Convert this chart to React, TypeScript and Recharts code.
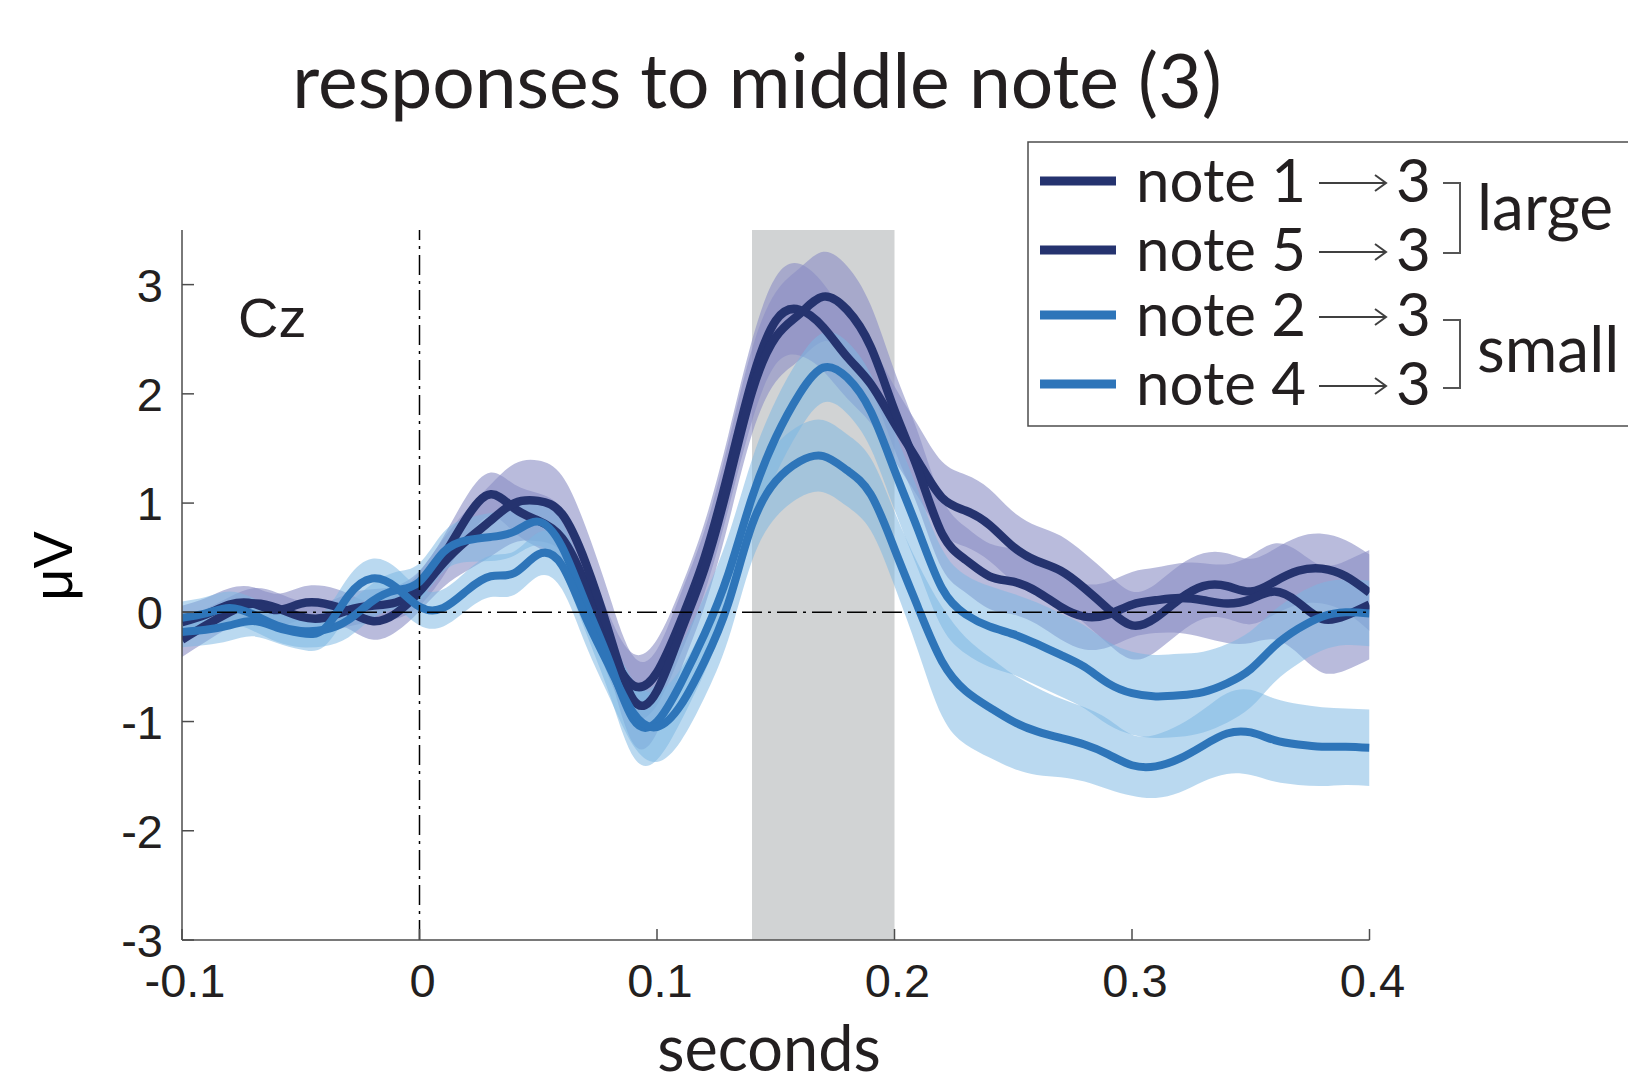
import React from "react"
import {
    ComposedChart,
    Area,
    Line,
    XAxis,
    YAxis,
    ReferenceArea,
    ReferenceLine,
} from "recharts"

// time axis (seconds)
const TIME = [
    -0.1, -0.09, -0.08, -0.07, -0.06, -0.05, -0.04, -0.03, -0.02, -0.01,
    0, 0.01, 0.02, 0.03, 0.04, 0.05, 0.06, 0.07, 0.08, 0.09,
    0.1, 0.11, 0.12, 0.13, 0.14, 0.15, 0.16, 0.17, 0.18, 0.19,
    0.2, 0.21, 0.22, 0.23, 0.24, 0.25, 0.26, 0.27, 0.28, 0.29,
    0.3, 0.31, 0.32, 0.33, 0.34, 0.35, 0.36, 0.37, 0.38, 0.39, 0.4,
]

// note 1 -> 3 (large)
const NOTE1_MEAN = [
    -0.25, -0.12, 0.0, 0.08, 0.04, -0.04, -0.05, 0.02, 0.06, 0.09,
    0.22, 0.51, 0.87, 1.08, 0.95, 0.84, 0.68, 0.25, -0.32, -0.67,
    -0.55, -0.08, 0.5, 1.28, 2.12, 2.67, 2.77, 2.61, 2.34, 2.09,
    1.73, 1.38, 1.05, 0.93, 0.8, 0.6, 0.47, 0.38, 0.22, 0.03,
    -0.12, -0.05, 0.12, 0.24, 0.24, 0.19, 0.28, 0.38, 0.4, 0.33, 0.18,
]
const NOTE1_SE = [
    0.16, 0.15, 0.14, 0.14, 0.14, 0.14, 0.14, 0.15, 0.15, 0.15,
    0.16, 0.18, 0.2, 0.2, 0.22, 0.25, 0.27, 0.28, 0.29, 0.29,
    0.3, 0.3, 0.32, 0.34, 0.37, 0.4, 0.42, 0.4, 0.38, 0.36,
    0.34, 0.33, 0.33, 0.33, 0.33, 0.32, 0.32, 0.32, 0.32, 0.32,
    0.31, 0.31, 0.31, 0.3, 0.3, 0.3, 0.3, 0.31, 0.32, 0.33, 0.35,
]

// note 5 -> 3 (large)
const NOTE5_MEAN = [
    -0.09, -0.02, 0.07, 0.08, 0.02, 0.08, 0.08, 0.01, -0.08, -0.01,
    0.19, 0.45, 0.66, 0.84, 1.0, 1.02, 0.9, 0.45, -0.2, -0.8,
    -0.72, -0.18, 0.4, 1.18, 2.02, 2.52, 2.73, 2.89, 2.77, 2.43,
    1.85, 1.3, 0.72, 0.48, 0.33, 0.28, 0.19, 0.05, -0.04, -0.02,
    0.07, 0.11, 0.13, 0.11, 0.08, 0.12, 0.19, 0.09, -0.06, -0.03, 0.07,
]
const NOTE5_SE = [
    0.15, 0.15, 0.15, 0.15, 0.15, 0.15, 0.16, 0.16, 0.17, 0.17,
    0.18, 0.22, 0.28, 0.33, 0.36, 0.37, 0.35, 0.33, 0.35, 0.4,
    0.38, 0.35, 0.35, 0.37, 0.39, 0.41, 0.42, 0.41, 0.4, 0.38,
    0.36, 0.34, 0.32, 0.3, 0.3, 0.3, 0.3, 0.3, 0.3, 0.3,
    0.3, 0.3, 0.32, 0.34, 0.36, 0.4, 0.44, 0.47, 0.49, 0.5, 0.5,
]

// note 2 -> 3 (small)
const NOTE2_MEAN = [
    -0.05, -0.01, 0.04, -0.02, -0.12, -0.17, -0.16, -0.07, 0.1, 0.2,
    0.28, 0.55, 0.66, 0.69, 0.74, 0.83, 0.6, 0.08, -0.45, -0.98,
    -1.0, -0.65, -0.2, 0.35, 1.05, 1.6, 2.0, 2.24, 2.15, 1.84,
    1.3, 0.75, 0.22, -0.02, -0.13, -0.2, -0.29, -0.39, -0.5, -0.65,
    -0.74, -0.77, -0.76, -0.73, -0.65, -0.52, -0.31, -0.15, -0.04, 0.0, -0.01,
]
const NOTE2_SE = [
    0.15, 0.15, 0.15, 0.15, 0.15, 0.15, 0.15, 0.16, 0.16, 0.17,
    0.17, 0.18, 0.2, 0.22, 0.22, 0.22, 0.23, 0.26, 0.3, 0.34,
    0.35, 0.35, 0.35, 0.35, 0.35, 0.34, 0.33, 0.32, 0.33, 0.34,
    0.36, 0.36, 0.36, 0.36, 0.37, 0.37, 0.38, 0.38, 0.38, 0.38,
    0.38, 0.38, 0.38, 0.37, 0.36, 0.35, 0.33, 0.32, 0.31, 0.3, 0.3,
]

// note 4 -> 3 (small)
const NOTE4_MEAN = [
    -0.18, -0.16, -0.12, -0.08, -0.14, -0.19, -0.15, 0.15, 0.31, 0.23,
    0.05, 0.04, 0.2, 0.33, 0.36, 0.53, 0.43, -0.05, -0.5, -0.92,
    -1.05, -0.85, -0.45, 0.08, 0.8, 1.2, 1.38, 1.43, 1.3, 1.08,
    0.58, 0.04, -0.45, -0.72, -0.87, -1.0, -1.09, -1.15, -1.21, -1.3,
    -1.4, -1.41, -1.34, -1.22, -1.11, -1.1, -1.17, -1.21, -1.23, -1.23, -1.24,
]
const NOTE4_SE = [
    0.14, 0.14, 0.14, 0.14, 0.14, 0.15, 0.16, 0.17, 0.18, 0.18,
    0.17, 0.17, 0.18, 0.19, 0.2, 0.2, 0.22, 0.25, 0.28, 0.3,
    0.32, 0.33, 0.33, 0.33, 0.33, 0.33, 0.33, 0.33, 0.33, 0.33,
    0.34, 0.4, 0.5, 0.49, 0.46, 0.43, 0.4, 0.36, 0.34, 0.32,
    0.28, 0.29, 0.31, 0.33, 0.37, 0.39, 0.38, 0.37, 0.36, 0.35, 0.35,
]

const X_TICKS = [-0.1, 0, 0.1, 0.2, 0.3, 0.4]
const Y_TICKS = [-3, -2, -1, 0, 1, 2, 3]
const WINDOW = [0.14, 0.2]

const DARK = "#25336f"
const MID = "#2e75b9"
const DARK_BAND = "#8a8dc5"
const MID_BAND = "#7bb7e2"
const AXIS = "#4d4d4d"
const INK = "#231f20"
const ARIAL = "'Liberation Sans', Arial, sans-serif"
const MYRIAD = "Lato, 'Open Sans', sans-serif"

const PLOT_LEFT = 182
const PLOT_BOTTOM = 940

const data = TIME.map((t, i) => ({
    t,
    n1: NOTE1_MEAN[i],
    n5: NOTE5_MEAN[i],
    n2: NOTE2_MEAN[i],
    n4: NOTE4_MEAN[i],
    n1band: [NOTE1_MEAN[i] - NOTE1_SE[i], NOTE1_MEAN[i] + NOTE1_SE[i]],
    n5band: [NOTE5_MEAN[i] - NOTE5_SE[i], NOTE5_MEAN[i] + NOTE5_SE[i]],
    n2band: [NOTE2_MEAN[i] - NOTE2_SE[i], NOTE2_MEAN[i] + NOTE2_SE[i]],
    n4band: [NOTE4_MEAN[i] - NOTE4_SE[i], NOTE4_MEAN[i] + NOTE4_SE[i]],
}))

// MATLAB-style ticks: pointing into the plot
const YTick = (props: any) => {
    const { y, payload } = props
    return (
        <g>
            <line x1={PLOT_LEFT} x2={PLOT_LEFT + 12} y1={y} y2={y} stroke={AXIS} strokeWidth={1.5} />
            <text x={163} y={y + 17} textAnchor="end" fontFamily={ARIAL} fontSize={47} fill={INK}>
                {payload.value}
            </text>
        </g>
    )
}

const XTick = (props: any) => {
    const { x, payload } = props
    return (
        <g>
            <line x1={x} x2={x} y1={PLOT_BOTTOM} y2={PLOT_BOTTOM - 11} stroke={AXIS} strokeWidth={1.5} />
            <text x={x + 3} y={997} textAnchor="middle" fontFamily={ARIAL} fontSize={47} fill={INK}>
                {payload.value}
            </text>
        </g>
    )
}

const LEGEND_ROWS = [
    { label: "note 1", color: DARK, lineY: 181, base: 202 },
    { label: "note 5", color: DARK, lineY: 250, base: 271 },
    { label: "note 2", color: MID, lineY: 315, base: 336 },
    { label: "note 4", color: MID, lineY: 384, base: 405 },
]

function Overlay() {
    return (
        <svg width={1628} height={1080} style={{ position: "absolute", left: 0, top: 0, pointerEvents: "none" }}>
            <text x={757} y={108} textAnchor="middle" fontFamily={MYRIAD} fontSize={75} fill={INK}>
                responses to middle note (3)
            </text>
            <text x={769} y={1071} textAnchor="middle" fontFamily={MYRIAD} fontSize={63} fill={INK}>
                seconds
            </text>
            <text
                x={72}
                y={566}
                textAnchor="middle"
                fontFamily={ARIAL}
                fontSize={56}
                fill="#000"
                transform="rotate(-90 72 566)"
            >
                μV
            </text>
            <text x={238} y={337} fontFamily={ARIAL} fontSize={56} fill={INK}>
                Cz
            </text>

            <rect x={1028} y={142} width={700} height={284} fill="#fff" stroke={AXIS} strokeWidth={1.5} />
            {LEGEND_ROWS.map((r) => (
                <g key={r.label}>
                    <line x1={1040} x2={1116} y1={r.lineY} y2={r.lineY} stroke={r.color} strokeWidth={9} />
                    <text x={1136} y={r.base} fontFamily={MYRIAD} fontSize={60} fill={INK}>
                        {r.label}
                    </text>
                    <line x1={1319} x2={1386} y1={r.base - 19} y2={r.base - 19} stroke="#404040" strokeWidth={2} />
                    <path
                        d={`M1375 ${r.base - 27} L1386 ${r.base - 19} L1375 ${r.base - 11}`}
                        fill="none"
                        stroke="#404040"
                        strokeWidth={2}
                    />
                    <text x={1396} y={r.base} fontFamily={MYRIAD} fontSize={60} fill={INK}>
                        3
                    </text>
                </g>
            ))}
            <path d="M1443 183 H1460 V253 H1443" fill="none" stroke="#555" strokeWidth={2} />
            <path d="M1443 320 H1460 V388 H1443" fill="none" stroke="#555" strokeWidth={2} />
            <text x={1477} y={230} fontFamily={MYRIAD} fontSize={64} fill={INK}>
                large
            </text>
            <text x={1477} y={372} fontFamily={MYRIAD} fontSize={64} fill={INK}>
                small
            </text>
        </svg>
    )
}

export default function App() {
    return (
        <div style={{ position: "absolute", left: 0, top: 0, width: 1628, height: 1080, background: "#fff" }}>
            <ComposedChart
                width={1628}
                height={1080}
                data={data}
                margin={{ top: 230, right: 258.5, bottom: 40, left: 82 }}
            >
                <XAxis
                    dataKey="t"
                    type="number"
                    domain={[-0.1, 0.4]}
                    ticks={X_TICKS}
                    interval={0}
                    height={100}
                    allowDataOverflow
                    axisLine={{ stroke: AXIS, strokeWidth: 1.5 }}
                    tickLine={false}
                    tick={<XTick />}
                />
                <YAxis
                    type="number"
                    domain={[-3, 3.5]}
                    ticks={Y_TICKS}
                    interval={0}
                    width={100}
                    allowDataOverflow
                    axisLine={{ stroke: AXIS, strokeWidth: 1.5 }}
                    tickLine={false}
                    tick={<YTick />}
                />
                <ReferenceArea x1={WINDOW[0]} x2={WINDOW[1]} fill="#d1d3d4" fillOpacity={1} stroke="none" zIndex={-50} />

                <Area dataKey="n1band" type="natural" fill={DARK_BAND} fillOpacity={0.6} stroke="none" dot={false} activeDot={false} isAnimationActive={false} />
                <Area dataKey="n5band" type="natural" fill={DARK_BAND} fillOpacity={0.6} stroke="none" dot={false} activeDot={false} isAnimationActive={false} />
                <Area dataKey="n2band" type="natural" fill={MID_BAND} fillOpacity={0.52} stroke="none" dot={false} activeDot={false} isAnimationActive={false} />
                <Area dataKey="n4band" type="natural" fill={MID_BAND} fillOpacity={0.52} stroke="none" dot={false} activeDot={false} isAnimationActive={false} />

                <Line dataKey="n1" type="natural" stroke={DARK} strokeWidth={8.5} dot={false} activeDot={false} isAnimationActive={false} />
                <Line dataKey="n5" type="natural" stroke={DARK} strokeWidth={8.5} dot={false} activeDot={false} isAnimationActive={false} />
                <Line dataKey="n2" type="natural" stroke={MID} strokeWidth={8} dot={false} activeDot={false} isAnimationActive={false} />
                <Line dataKey="n4" type="natural" stroke={MID} strokeWidth={8} dot={false} activeDot={false} isAnimationActive={false} />

                <ReferenceLine x={0} stroke="#000" strokeWidth={1.5} strokeDasharray="20 6 3 6" zIndex={450} />
                <ReferenceLine y={0} stroke="#000" strokeWidth={1.5} strokeDasharray="20 6 3 6" zIndex={450} />
            </ComposedChart>
            <Overlay />
        </div>
    )
}
